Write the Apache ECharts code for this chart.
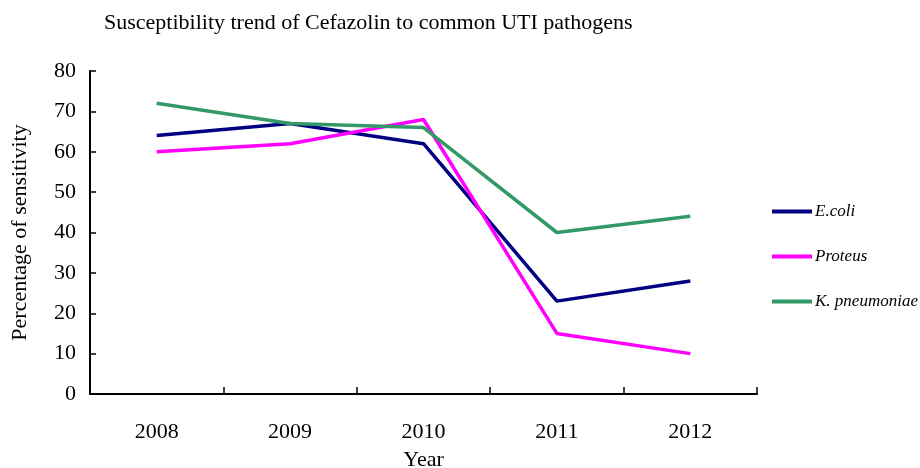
<!DOCTYPE html>
<html>
<head>
    <meta charset="utf-8">
    <title>Cefazolin susceptibility</title>
    <script src="https://cdn.jsdelivr.net/npm/echarts@6/dist/echarts.min.js"></script>
</head>
<body style="margin:0">
    <div id="main" style="width: 920px;height:468px;"></div>
    <script type="text/javascript">
        // data
        var years = ['2008', '2009', '2010', '2011', '2012'];
        var ecoli = [64, 67, 62, 23, 28];
        var proteus = [60, 62, 68, 15, 10];
        var kpneu = [72, 67, 66, 40, 44];

        var font = '"Liberation Serif", "Times New Roman", serif';
        var myChart = echarts.init(document.getElementById('main'));

        var option = {
            animation: false,
            textStyle: { fontFamily: font, color: '#000' },
            title: {
                text: 'Susceptibility trend of Cefazolin to common UTI pathogens',
                left: 104,
                top: 12,
                padding: 0,
                textStyle: { fontFamily: font, fontSize: 22, fontWeight: 'normal', color: '#000' }
            },
            legend: {
                orient: 'vertical',
                left: 772,
                top: 203,
                padding: 0,
                itemWidth: 40,
                itemHeight: 4,
                itemGap: 28,
                icon: 'rect',
                textStyle: { fontFamily: font, fontSize: 17, fontStyle: 'italic', color: '#000', padding: [0, 0, 0, -2] },
                data: ['E.coli', 'Proteus', 'K. pneumoniae']
            },
            grid: { left: 90, right: 163, top: 71, bottom: 74, outerBoundsMode: 'none' },
            xAxis: {
                type: 'category',
                data: years,
                boundaryGap: true,
                name: 'Year',
                nameLocation: 'middle',
                nameGap: 55,
                nameTextStyle: { fontFamily: font, fontSize: 22, color: '#000' },
                axisLine: { lineStyle: { color: '#000', width: 2 } },
                axisTick: { show: true, alignWithLabel: false, interval: 0, inside: true, length: 7, lineStyle: { color: '#000', width: 1.5 } },
                axisLabel: { margin: 27, fontFamily: font, fontSize: 22, color: '#000' }
            },
            yAxis: {
                type: 'value',
                min: 0,
                max: 80,
                interval: 10,
                name: 'Percentage of sensitivity',
                nameLocation: 'middle',
                nameGap: 59,
                nameTextStyle: { fontFamily: font, fontSize: 22, color: '#000' },
                axisLine: { show: true, lineStyle: { color: '#000', width: 2 } },
                axisTick: { show: true, inside: true, length: 6, lineStyle: { color: '#000', width: 1.5 } },
                axisLabel: { margin: 14, fontFamily: font, fontSize: 22, color: '#000' },
                splitLine: { show: false }
            },
            series: [
                { name: 'E.coli', type: 'line', data: ecoli, symbol: 'none', color: '#000080', lineStyle: { width: 3.5 } },
                { name: 'Proteus', type: 'line', data: proteus, symbol: 'none', color: '#ff00ff', lineStyle: { width: 3.5 } },
                { name: 'K. pneumoniae', type: 'line', data: kpneu, symbol: 'none', color: '#339966', lineStyle: { width: 3.5 } }
            ]
        };

        myChart.setOption(option);
    </script>
</body>
</html>
